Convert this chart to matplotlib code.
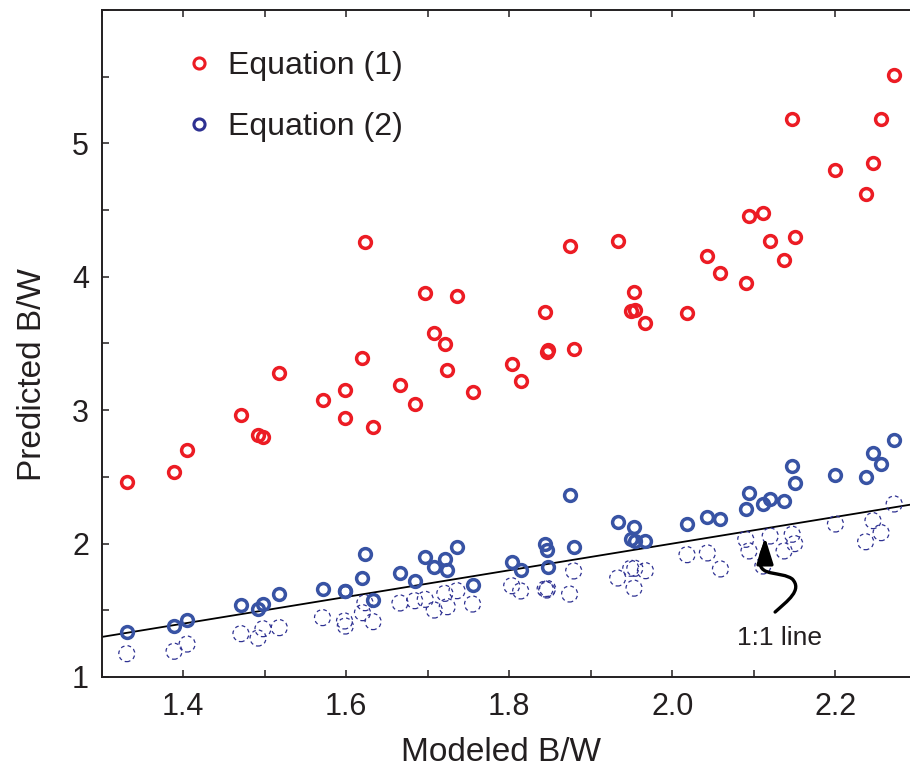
"""
Predicted vs modeled B/W, two equations plus the 1:1 line.
"""

import numpy as np
import matplotlib.pyplot as plt
from matplotlib.lines import Line2D
from matplotlib.path import Path
from matplotlib.patches import FancyArrowPatch
from matplotlib.ticker import MultipleLocator, FuncFormatter

plt.rcParams['font.family'] = ['Liberation Sans', 'DejaVu Sans']

# modeled B/W (x) and the three predicted sets
modeled = [1.331, 1.389, 1.405, 1.471, 1.492, 1.498, 1.518, 1.571, 1.598, 1.599,
           1.620, 1.623, 1.633, 1.666, 1.684, 1.697, 1.708, 1.721, 1.724, 1.736,
           1.755, 1.803, 1.814, 1.844, 1.846, 1.847, 1.874, 1.879, 1.933, 1.949,
           1.953, 1.954, 1.967, 2.018, 2.043, 2.059, 2.090, 2.094, 2.111, 2.120,
           2.137, 2.147, 2.150, 2.200, 2.237, 2.246, 2.256, 2.272]
eq1 = [2.46, 2.537, 2.702, 2.966, 2.816, 2.801, 3.281, 3.079, 3.151, 2.939,
       3.394, 4.259, 2.874, 3.187, 3.044, 3.881, 3.576, 3.496, 3.301, 3.858,
       3.134, 3.350, 3.221, 3.738, 3.439, 3.448, 4.233, 3.457, 4.271, 3.746,
       3.888, 3.751, 3.651, 3.726, 4.156, 4.026, 3.951, 4.456, 4.481, 4.271,
       4.128, 5.185, 4.298, 4.798, 4.621, 4.851, 5.185, 5.515]
eq2 = [1.340, 1.382, 1.427, 1.537, 1.512, 1.547, 1.622, 1.662, 1.647, 1.645,
       1.740, 1.920, 1.575, 1.780, 1.722, 1.902, 1.822, 1.887, 1.802, 1.977,
       1.687, 1.864, 1.802, 1.997, 1.952, 1.827, 2.364, 1.977, 2.164, 2.032,
       2.124, 2.016, 2.020, 2.145, 2.199, 2.182, 2.262, 2.377, 2.295, 2.332,
       2.319, 2.582, 2.457, 2.517, 2.502, 2.677, 2.594, 2.777]
eq2_dashed = [1.175, 1.193, 1.247, 1.325, 1.292, 1.362, 1.370, 1.445, 1.420, 1.382,
              1.482, 1.557, 1.415, 1.555, 1.572, 1.582, 1.502, 1.627, 1.527, 1.647,
              1.547, 1.684, 1.645, 1.660, 1.652, 1.663, 1.622, 1.795, 1.742, 1.815,
              1.666, 1.815, 1.797, 1.917, 1.930, 1.810, 2.032, 1.945, 1.832, 2.057,
              1.945, 2.070, 2.000, 2.147, 2.014, 2.172, 2.082, 2.297]

one_to_one = [1.3, 2.3]
x_ticks_labelled = [1.4, 1.6, 1.8, 2.0, 2.2]
y_ticks_labelled = [1, 2, 3, 4, 5]

# squiggly arrow pointing at the 1:1 line (tail -> head), cubic bezier points
arrow_pts = [(2.126, 1.487),
             (2.141, 1.570), (2.160, 1.652), (2.147, 1.735),
             (2.133, 1.795), (2.1075, 1.750), (2.1075, 1.862),
             (2.1075, 1.937), (2.1136, 1.975), (2.1136, 2.049)]

red = '#ec1c24'
blue = '#3853a4'
navy = '#2e3192'
txt = '#231f20'

fig = plt.figure(figsize=(9.1, 7.69), dpi=100)
ax = fig.add_axes([101.5 / 910, 92 / 769, 815.5 / 910, 667 / 769])

ax.plot(one_to_one, one_to_one, color='black', lw=1.3, zorder=1)
ax.scatter(modeled, eq2_dashed, s=11.5 ** 2, facecolors='none', edgecolors=navy,
           linewidths=0.9, linestyles=(0, (3, 2.5)), zorder=2)
ax.plot(modeled, eq2, 'o', ms=8.5, mfc='none', mec=blue, mew=2.5, zorder=3)
ax.plot(modeled, eq1, 'o', ms=8.5, mfc='none', mec=red, mew=2.5, zorder=3)

codes = [Path.MOVETO] + [Path.CURVE4] * 9
arr = FancyArrowPatch(path=Path(arrow_pts, codes),
                      arrowstyle='-|>,head_length=0.8,head_width=0.25',
                      mutation_scale=20, lw=2.4, color='black', zorder=4)
ax.add_patch(arr)
ax.text(2.131, 1.292, '1:1 line', fontsize=19, color=txt, ha='center', va='center')

ax.set_xlim(1.3, 2.3)
ax.set_ylim(1, 6)
ax.xaxis.set_major_locator(MultipleLocator(0.1))
ax.yaxis.set_major_locator(MultipleLocator(0.5))


def xfmt(v, pos):
    for t in x_ticks_labelled:
        if abs(v - t) < 1e-6:
            return f'{t:.1f}'
    return ''


def yfmt(v, pos):
    for t in y_ticks_labelled:
        if abs(v - t) < 1e-6:
            return f'{t:d}'
    return ''


ax.xaxis.set_major_formatter(FuncFormatter(xfmt))
ax.yaxis.set_major_formatter(FuncFormatter(yfmt))
ax.tick_params(direction='in', top=True, right=True, length=5, width=1.1,
               labelsize=22, colors=txt)
ax.tick_params(axis='x', pad=11)
ax.tick_params(axis='y', pad=9)
for s in ax.spines.values():
    s.set_linewidth(1.4)
    s.set_color(txt)

ax.set_xlabel('Modeled B/W', fontsize=24, color=txt)
ax.set_ylabel('Predicted B/W', fontsize=24, color=txt)
ax.xaxis.set_label_coords(0.49, -0.09)
ax.yaxis.set_label_coords(-0.065, 0.454)

handles = [Line2D([], [], ls='none', marker='o', ms=8, mfc='none', mec=red, mew=2.2),
           Line2D([], [], ls='none', marker='o', ms=8, mfc='none', mec=navy, mew=2.2)]
ax.legend(handles, ['Equation (1)', 'Equation (2)'], loc='upper left',
          bbox_to_anchor=(189.5 / 910, 1 - 51 / 769), bbox_transform=fig.transFigure,
          frameon=False, fontsize=23, handlelength=0.6, handletextpad=0.6,
          labelspacing=0.97, borderpad=0, borderaxespad=0, labelcolor=txt)

plt.savefig('out.png')
plt.close()
